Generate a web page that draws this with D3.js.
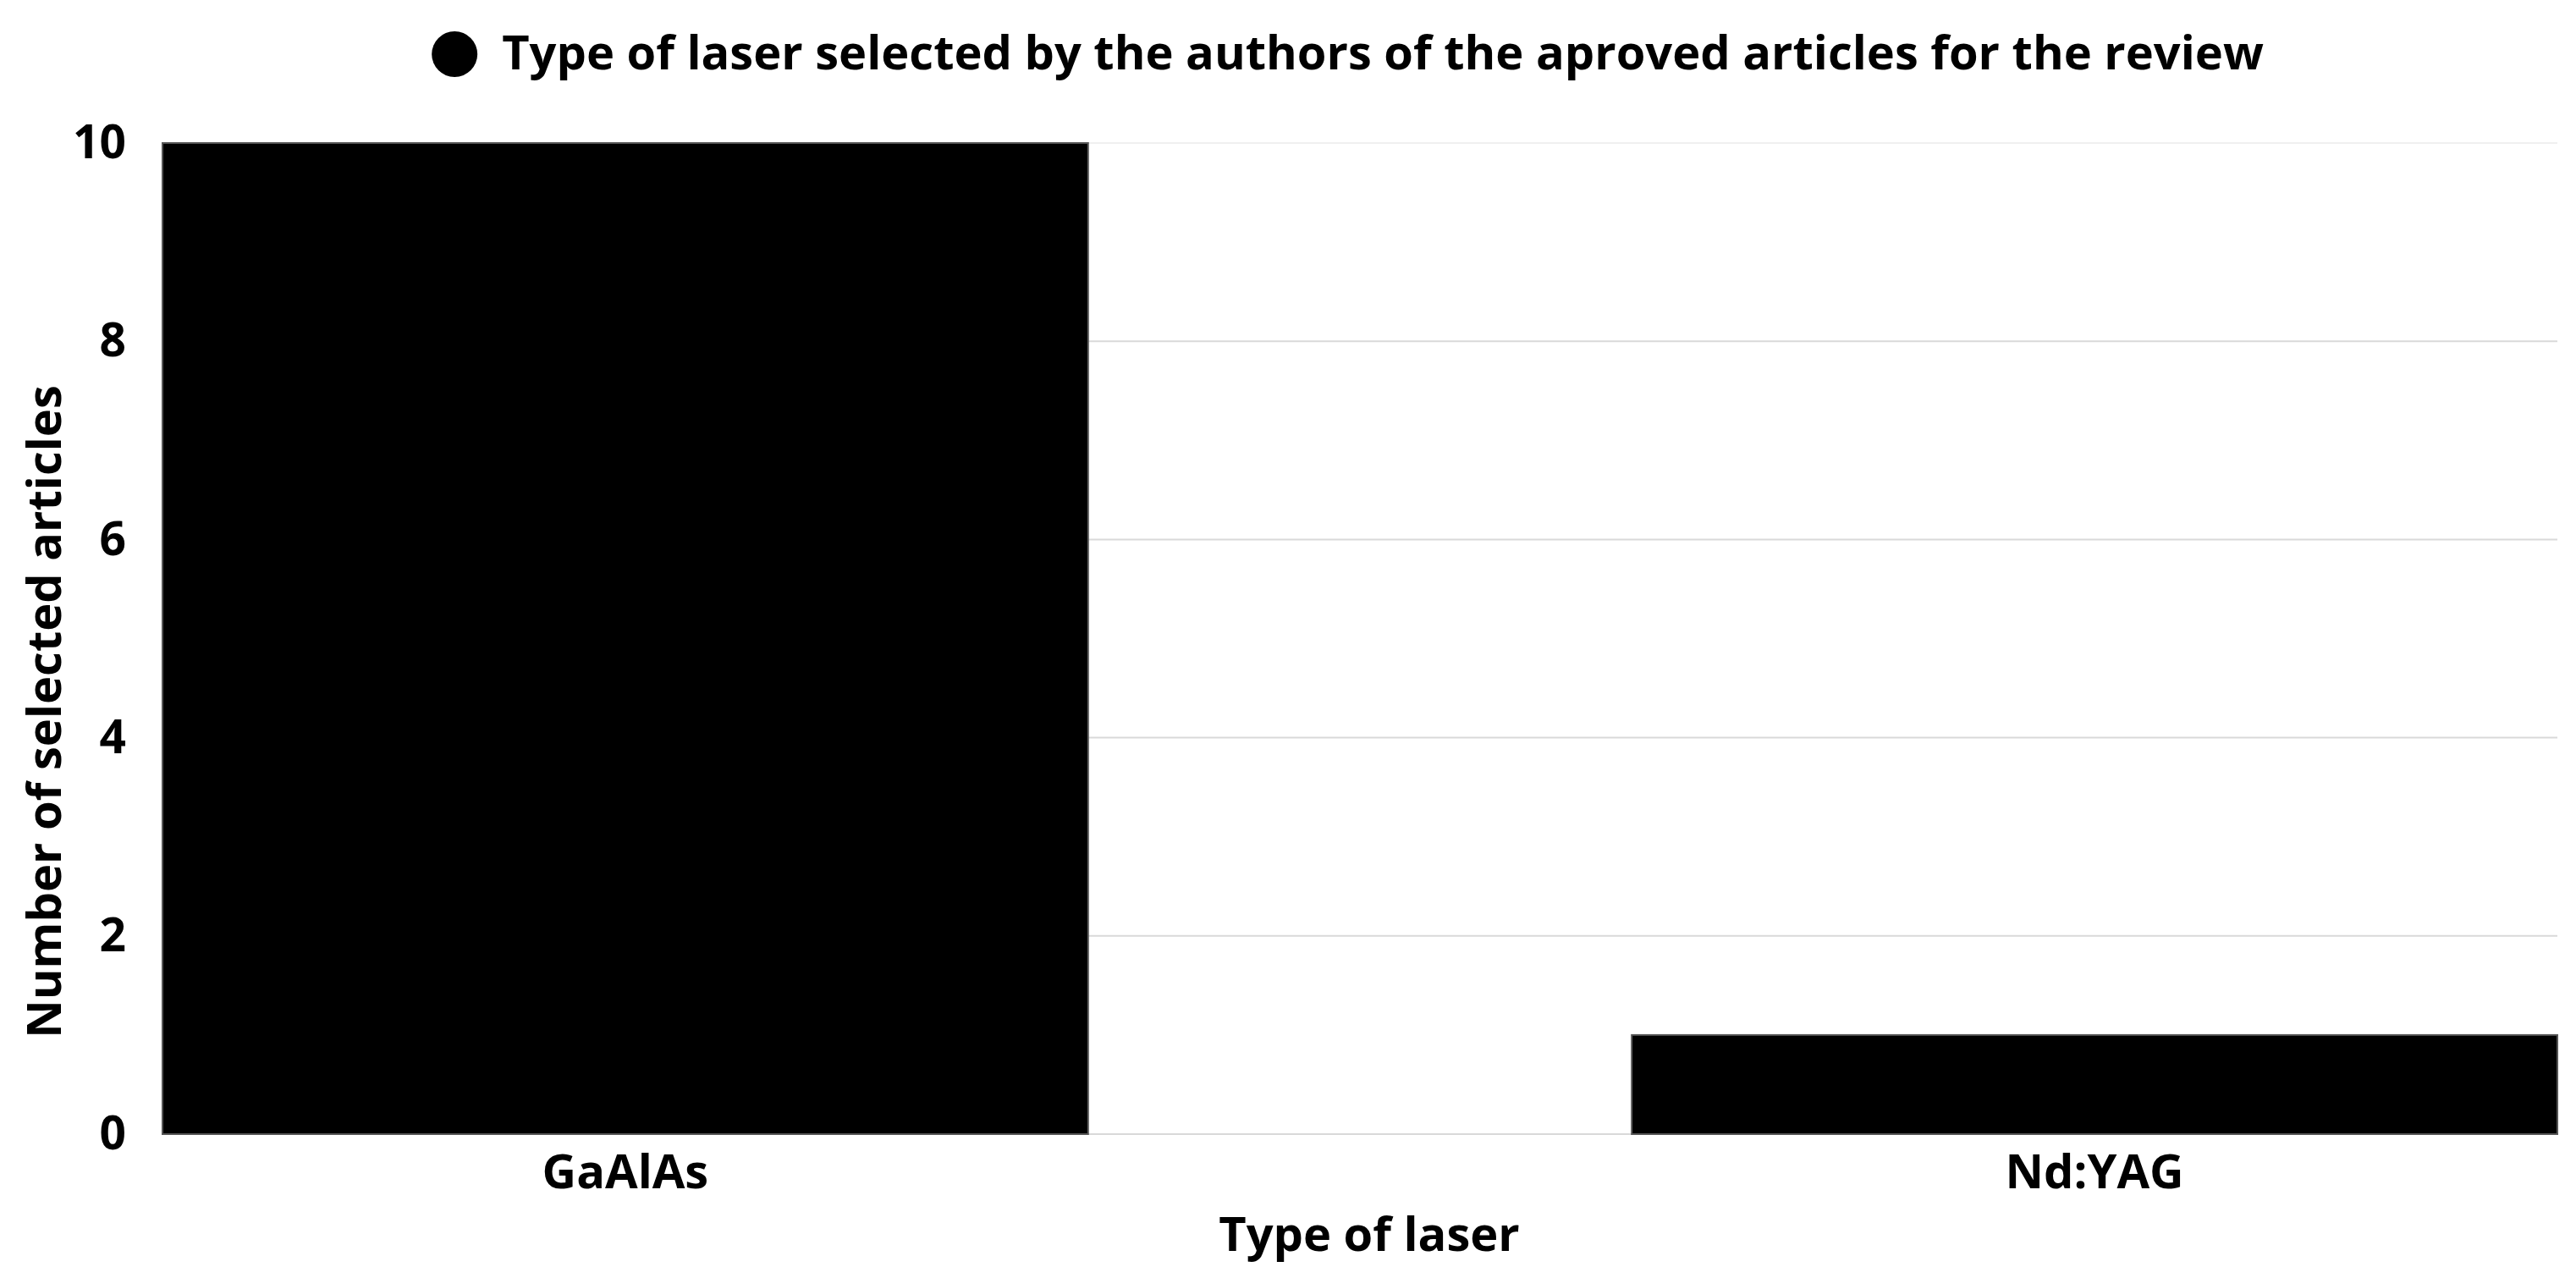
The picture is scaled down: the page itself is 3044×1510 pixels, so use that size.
<!DOCTYPE html>
<html>
<head>
<meta charset="utf-8">
<script src="https://cdn.jsdelivr.net/npm/d3@7"></script>
<style>
  body { margin: 0; background: #fff; }
  text { font-family: "Open Sans", sans-serif; font-weight: bold; fill: #000; }
</style>
</head>
<body>
<div id="my_dataviz"></div>
<script>

// data
const lasers = ["GaAlAs", "Nd:YAG"];
const articles = [10, 1];
const yTicks = [0, 2, 4, 6, 8, 10];

const chartTitle = "Type of laser selected by the authors of the aproved articles for the review";
const xTitle = "Type of laser";
const yTitle = "Number of selected articles";

// dim
const W = 3044, H = 1510;
const margin = {top: 169, right: 22, bottom: 170, left: 192},
    width = W - margin.left - margin.right,
    height = H - margin.top - margin.bottom;

const svg = d3.select("#my_dataviz")
  .append("svg")
    .attr("width", W)
    .attr("height", H);

const g = svg.append("g")
    .attr("transform", `translate(${margin.left},${margin.top})`);

// X scale
const x = d3.scaleBand()
    .domain(lasers)
    .range([0, width])
    .paddingInner(0.37)
    .paddingOuter(0);

// Y scale
const y = d3.scaleLinear()
    .domain([0, 10])
    .range([height, 0]);

// grid lines
g.append("g")
  .selectAll("line")
  .data(yTicks)
  .join("line")
    .attr("x1", 0)
    .attr("x2", width)
    .attr("y1", d => y(d))
    .attr("y2", d => y(d))
    .attr("stroke", d => d === 10 ? "#f0f0f0" : "#d9d9d9")
    .attr("stroke-width", 2);

// Y axis (labels only)
const yAxis = g.append("g")
    .call(d3.axisLeft(y).tickValues(yTicks).tickSize(0).tickPadding(43));
yAxis.select(".domain").remove();
yAxis.selectAll("text")
    .style("font-size", "55px")
    .style("font-family", "'Open Sans', sans-serif")
    .style("font-weight", "bold")
    .attr("fill", "#000");

// bars
g.append("g")
  .selectAll("rect")
  .data(articles)
  .join("rect")
    .attr("x", (d, i) => x(lasers[i]))
    .attr("y", d => y(d))
    .attr("width", x.bandwidth())
    .attr("height", d => y(0) - y(d))
    .attr("fill", "#000")
    .attr("stroke", "#555")
    .attr("stroke-width", 2);

// X axis (labels only)
const xAxis = g.append("g")
    .attr("transform", `translate(0, ${height})`)
    .call(d3.axisBottom(x).tickSize(0).tickPadding(24));
xAxis.select(".domain").remove();
xAxis.selectAll("text")
    .style("font-size", "56px")
    .style("font-family", "'Open Sans', sans-serif")
    .style("font-weight", "bold")
    .attr("fill", "#000");

// axis titles
g.append("text")
    .attr("x", width / 2 + 11)
    .attr("y", height + 138)
    .style("text-anchor", "middle")
    .style("font-size", "56px")
    .text(xTitle);

svg.append("text")
    .attr("transform", `translate(72, 841) rotate(-90)`)
    .style("text-anchor", "middle")
    .style("font-size", "56px")
    .text(yTitle);

// title with bullet
const title = svg.append("text")
    .attr("x", 1634)
    .attr("y", 82)
    .style("text-anchor", "middle")
    .style("font-size", "56px")
    .text(chartTitle);

const tw = title.node().getComputedTextLength();
svg.append("circle")
    .attr("cx", 1634 - tw / 2 - 56)
    .attr("cy", 64)
    .attr("r", 27)
    .attr("fill", "#000");

</script>
</body>
</html>
